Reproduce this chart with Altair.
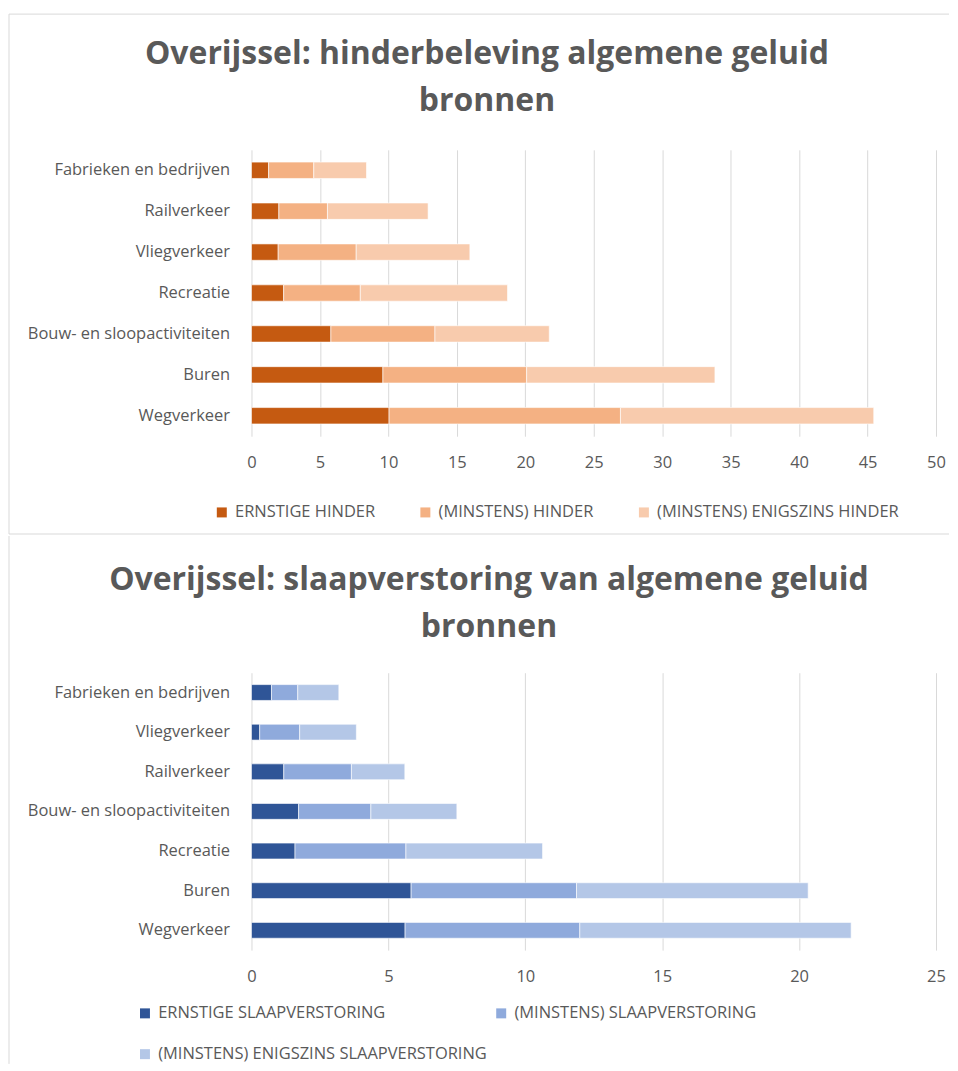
import altair as alt
import pandas as pd

# ---------------- data ----------------
cats_top = ["Fabrieken en bedrijven", "Railverkeer", "Vliegverkeer", "Recreatie",
            "Bouw- en sloopactiviteiten", "Buren", "Wegverkeer"]
series_top = ["ERNSTIGE HINDER", "(MINSTENS) HINDER", "(MINSTENS) ENIGSZINS HINDER"]
ernstig_top = [1.25, 2.0, 1.95, 2.35, 5.8, 9.6, 10.05]
hinder_top = [3.3, 3.55, 5.7, 5.6, 7.6, 10.5, 16.9]
enigszins_top = [3.85, 7.35, 8.3, 10.75, 8.35, 13.75, 18.5]
colors_top = ["#C55A11", "#F4B183", "#F8CBAD"]
title_top = ["Overijssel: hinderbeleving algemene geluid", "bronnen"]

cats_bot = ["Fabrieken en bedrijven", "Vliegverkeer", "Railverkeer",
            "Bouw- en sloopactiviteiten", "Recreatie", "Buren", "Wegverkeer"]
series_bot = ["ERNSTIGE SLAAPVERSTORING", "(MINSTENS) SLAAPVERSTORING",
              "(MINSTENS) ENIGSZINS SLAAPVERSTORING"]
ernstig_bot = [0.73, 0.3, 1.18, 1.72, 1.59, 5.83, 5.61]
slaap_bot = [0.96, 1.46, 2.47, 2.64, 4.05, 6.04, 6.38]
enigszins_bot = [1.5, 2.07, 1.95, 3.14, 4.99, 8.46, 9.91]
colors_bot = ["#2F5597", "#8FAADC", "#B4C7E7"]
title_bot = ["Overijssel: slaapverstoring van algemene geluid", "bronnen"]

ticks_top = [0, 5, 10, 15, 20, 25, 30, 35, 40, 45, 50]
ticks_bot = [0, 5, 10, 15, 20, 25]


def to_long(cats, names, arrays):
    rows = []
    for i, (name, arr) in enumerate(zip(names, arrays)):
        for c, v in zip(cats, arr):
            rows.append({"cat": c, "series": name, "idx": i, "value": v})
    return pd.DataFrame(rows)


df_top = to_long(cats_top, series_top, [ernstig_top, hinder_top, enigszins_top])
df_bot = to_long(cats_bot, series_bot, [ernstig_bot, slaap_bot, enigszins_bot])

GRAY = "#595959"
BORDER = "#D9D9D9"
FONT = "Open Sans"
LABEL_SIZE = 16.5
one = pd.DataFrame({"a": [0]})


def panel(df, cats, names, colors, dmax, ticks, title, title_x, title_y,
          legend, width, height, rules):
    bars = alt.Chart(df).mark_bar(stroke="white", strokeWidth=0.6).encode(
        x=alt.X("value:Q", stack="zero",
                scale=alt.Scale(domain=[0, dmax], nice=False),
                axis=alt.Axis(values=ticks, title=None, grid=True, domain=False,
                              ticks=False, labelPadding=18, labelFontSize=LABEL_SIZE,
                              labelFlush=False, labelColor=GRAY, gridColor=BORDER,
                              labelFont=FONT)),
        y=alt.Y("cat:N", sort=cats,
                scale=alt.Scale(paddingInner=0.6, paddingOuter=0.3),
                axis=alt.Axis(title=None, domain=False, ticks=False, grid=False,
                              labelPadding=22, labelFontSize=LABEL_SIZE,
                              labelColor=GRAY, labelFont=FONT, labelLimit=300,
                              minExtent=243, maxExtent=243)),
        color=alt.Color("series:N", scale=alt.Scale(domain=names, range=colors),
                        legend=legend),
        order=alt.Order("idx:Q"),
    )
    heading = alt.Chart(one).mark_text(
        text=title, font=FONT, fontSize=32, fontWeight="bold", color=GRAY,
        align="center", baseline="alphabetic", lineHeight=47,
    ).encode(x=alt.value(title_x), y=alt.value(title_y))
    layers = [bars, heading]
    for r in rules:
        layers.append(alt.Chart(one).mark_rule(color=BORDER, strokeWidth=1).encode(**r))
    return alt.layer(*layers).properties(width=width, height=height)


legend_top = alt.Legend(title=None, orient="none", legendX=-38, legendY=355,
                        direction="horizontal", symbolType="square", symbolSize=100,
                        symbolStrokeWidth=0, labelFontSize=LABEL_SIZE, labelFont=FONT,
                        labelColor=GRAY, columnPadding=42, labelOffset=5,
                        labelLimit=600)
legend_bot = alt.Legend(title=None, orient="none", legendX=-115, legendY=333,
                        direction="horizontal", columns=2, symbolType="square",
                        symbolSize=100, symbolStrokeWidth=0, labelFontSize=LABEL_SIZE,
                        labelFont=FONT, labelColor=GRAY, columnPadding=5,
                        rowPadding=24, labelOffset=5, labelLimit=600)

rules_top = [
    dict(x=alt.value(-243), x2=alt.value(699), y=alt.value(-136)),
    dict(x=alt.value(-243), y=alt.value(-136), y2=alt.value(385)),
    dict(x=alt.value(-243), x2=alt.value(699), y=alt.value(385)),
]
rules_bot = [
    dict(x=alt.value(-243), y=alt.value(-137), y2=alt.value(392)),
]

top = panel(df_top, cats_top, series_top, colors_top, 50, ticks_top,
            title_top, 236, -86, legend_top, 686, 287, rules_top)
bot = panel(df_bot, cats_bot, series_bot, colors_bot, 25, ticks_bot,
            title_bot, 238, -83, legend_bot, 686, 278, rules_bot)

chart = alt.vconcat(top, bot, spacing=0).resolve_scale(color="independent").properties(
    padding={"left": 0, "top": 4, "right": 0, "bottom": 0},
    background="white",
).configure_view(strokeWidth=0, stroke="transparent")

chart.save("out.html", embed_options={"renderer": "svg", "actions": False})
